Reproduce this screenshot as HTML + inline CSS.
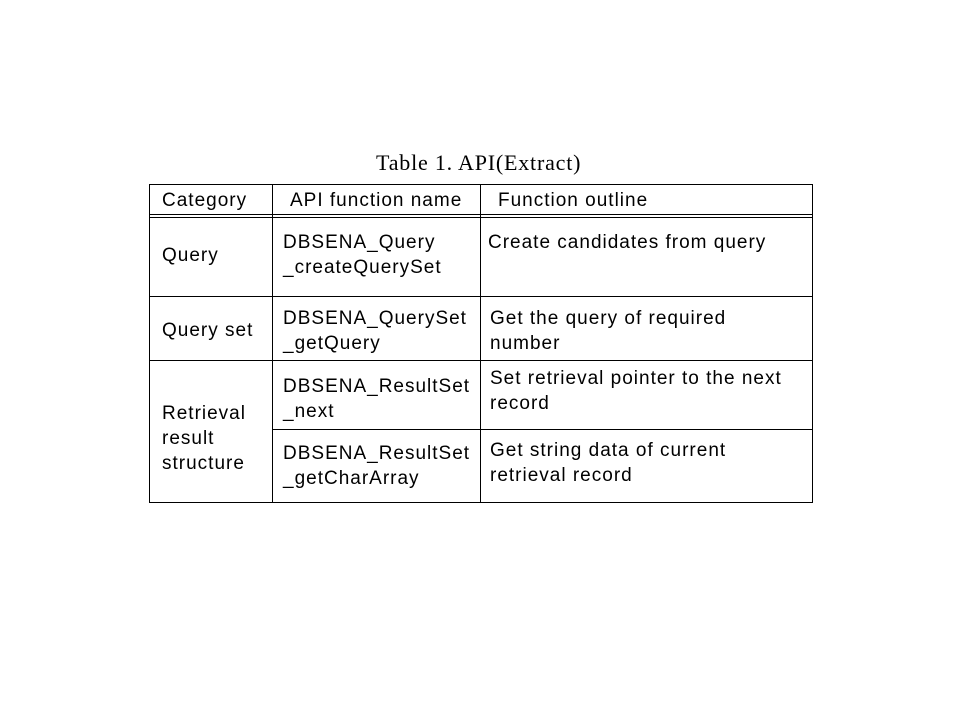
<!DOCTYPE html>
<html><head><style>
body{margin:0;width:959px;height:719px;background:#fff;position:relative;overflow:hidden;font-family:"Liberation Sans",Arial,sans-serif;font-size:19px;letter-spacing:1px;color:#000}
.l{position:absolute;background:#000}
.t{position:absolute;line-height:25px;white-space:nowrap}
</style></head><body>
<div class="t" style="left:376px;top:150px;font-family:'Liberation Serif',serif;font-size:22px;letter-spacing:0.8px">Table 1. API(Extract)</div>
<div class="l" style="left:149px;top:184px;width:664px;height:1px"></div>
<div class="l" style="left:149px;top:214px;width:664px;height:1px"></div>
<div class="l" style="left:149px;top:217px;width:664px;height:1px"></div>
<div class="l" style="left:149px;top:296px;width:664px;height:1px"></div>
<div class="l" style="left:149px;top:360px;width:664px;height:1px"></div>
<div class="l" style="left:272px;top:429px;width:541px;height:1px"></div>
<div class="l" style="left:149px;top:502px;width:664px;height:1px"></div>
<div class="l" style="left:149px;top:184px;width:1px;height:319px"></div>
<div class="l" style="left:272px;top:184px;width:1px;height:319px"></div>
<div class="l" style="left:480px;top:184px;width:1px;height:319px"></div>
<div class="l" style="left:812px;top:184px;width:1px;height:319px"></div>
<div class="t" style="left:162px;top:188px">Category</div>
<div class="t" style="left:290px;top:188px">API function name</div>
<div class="t" style="left:498px;top:188px">Function outline</div>
<div class="t" style="left:162px;top:243px">Query</div>
<div class="t" style="left:283px;top:230px">DBSENA_Query<br>_createQuerySet</div>
<div class="t" style="left:488px;top:230px">Create candidates from query</div>
<div class="t" style="left:162px;top:318px">Query set</div>
<div class="t" style="left:283px;top:306px">DBSENA_QuerySet<br>_getQuery</div>
<div class="t" style="left:490px;top:306px">Get the query of required<br>number</div>
<div class="t" style="left:162px;top:401px">Retrieval<br>result<br>structure</div>
<div class="t" style="left:283px;top:374px">DBSENA_ResultSet<br>_next</div>
<div class="t" style="left:490px;top:366px">Set retrieval pointer to the next<br>record</div>
<div class="t" style="left:283px;top:441px">DBSENA_ResultSet<br>_getCharArray</div>
<div class="t" style="left:490px;top:438px">Get string data of current<br>retrieval record</div>
</body></html>
